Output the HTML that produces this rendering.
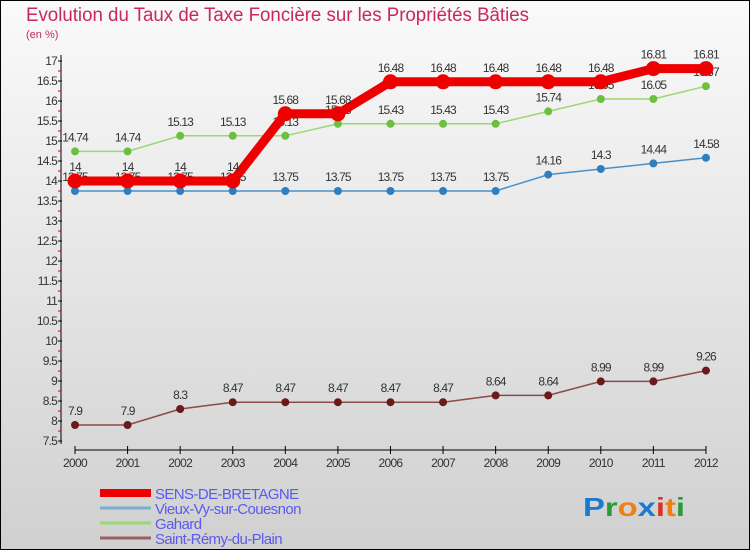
<!DOCTYPE html>
<html><head><meta charset="utf-8">
<style>
html,body{margin:0;padding:0;}
body{width:750px;height:550px;overflow:hidden;font-family:"Liberation Sans",sans-serif;}
</style></head>
<body>
<svg id="chart" width="750" height="550" xmlns="http://www.w3.org/2000/svg" font-family="Liberation Sans, sans-serif">
<defs>
<linearGradient id="bg" x1="0" y1="0" x2="0" y2="1">
<stop offset="0" stop-color="#fafafa"/><stop offset="1" stop-color="#d0d0d0"/>
</linearGradient>
</defs>
<rect x="0.5" y="0.5" width="749" height="549" fill="url(#bg)" stroke="#000" stroke-width="1"/>
<text x="26" y="21" font-size="19" fill="#c8285a" textLength="503" lengthAdjust="spacingAndGlyphs">Evolution du Taux de Taxe Foncière sur les Propriétés Bâties</text>
<text x="26" y="38" font-size="11" fill="#c8285a">(en %)</text>
<g id="axes"></g>
<g id="series"></g>
<g id="legend"></g>
<text x="583" y="516" font-size="26" font-weight="bold" textLength="102" lengthAdjust="spacingAndGlyphs"><tspan fill="#1a7ad0">P</tspan><tspan fill="#2a9a3a">r</tspan><tspan fill="#f08010">o</tspan><tspan fill="#1a7ad0">x</tspan><tspan fill="#e03020">i</tspan><tspan fill="#f08010">t</tspan><tspan fill="#2a9a3a">i</tspan></text>
</svg>
<script>
const years=[2000,2001,2002,2003,2004,2005,2006,2007,2008,2009,2010,2011,2012];
const yTicks=[7.5,8,8.5,9,9.5,10,10.5,11,11.5,12,12.5,13,13.5,14,14.5,15,15.5,16,16.5,17];
const seriesNames=["SENS-DE-BRETAGNE","Vieux-Vy-sur-Couesnon","Gahard","Saint-Rémy-du-Plain"];
const sens=[14,14,14,14,15.68,15.68,16.48,16.48,16.48,16.48,16.48,16.81,16.81];
const vieux=[13.75,13.75,13.75,13.75,13.75,13.75,13.75,13.75,13.75,14.16,14.3,14.44,14.58];
const gahard=[14.74,14.74,15.13,15.13,15.13,15.43,15.43,15.43,15.43,15.74,16.05,16.05,16.37];
const remy=[7.9,7.9,8.3,8.47,8.47,8.47,8.47,8.47,8.64,8.64,8.99,8.99,9.26];
const NS="http://www.w3.org/2000/svg";
const xS=i=>75+i*52.58;
const yS=v=>441-(v-7.5)*40;
function mk(tag,attrs,parent){const e=document.createElementNS(NS,tag);for(const k in attrs)e.setAttribute(k,attrs[k]);parent.appendChild(e);return e;}
const axes=document.getElementById('axes');
let a=mk('line',{x1:61,y1:55,x2:61,y2:444,stroke:'#000'},axes);


a=mk('line',{x1:75,y1:450,x2:706,y2:450,stroke:'#000'},axes);


yTicks.forEach(v=>{
 const y=yS(v);
 mk('line',{x1:58,y1:y,x2:62,y2:y,stroke:'#000'},axes);
 if(v<17) mk('line',{x1:58,y1:y-10,x2:61,y2:y-10,stroke:'#e00000'},axes);
 const t=mk('text',{x:57,y:y+4,'text-anchor':'end','font-size':12,fill:'#333','letter-spacing':'-0.8'},axes);
 t.textContent=String(v);
 
 
});
years.forEach((yr,i)=>{
 const x=xS(i);
 mk('line',{x1:x,y1:446,x2:x,y2:454,stroke:'#000'},axes);
 const t=mk('text',{x:x,y:467,'text-anchor':'middle','font-size':12,fill:'#333','letter-spacing':'-0.7'},axes);
 t.textContent=String(yr);
 
 
});
const sg=document.getElementById('series');
function draw(vals,color,dot,w,r,name){
 const g=mk('g',{},sg);
 
 
 mk('polyline',{points:vals.map((v,i)=>xS(i)+','+yS(v)).join(' '),fill:'none',stroke:color,'stroke-width':w},g);
 vals.forEach((v,i)=>{
  const c=mk('circle',{cx:xS(i),cy:yS(v),r:r,fill:dot},g);
  
  
  const t=mk('text',{x:xS(i),y:yS(v)-10,'text-anchor':'middle','font-size':12,fill:'#333','letter-spacing':'-0.9'},g);
  t.textContent=String(v);
  
  
 });
}
draw(remy,'#8a4a4a','#6a1a1a',1.5,4,'series-saint-remy-du-plain');
draw(vieux,'#4a90c8','#2f7fc0',1.5,4,'series-vieux-vy-sur-couesnon');
draw(gahard,'#9ad870','#6cc040',1.5,4,'series-gahard');
draw(sens,'#ee0000','#ee0000',9,7.5,'series-sens-de-bretagne');
const lg=document.getElementById('legend');
const lcol=['#ee0000','#7aaed0','#9ad870','#9a6060'];
const lw=[8,3,3,3];
seriesNames.forEach((n,i)=>{
 const y=493+i*15;
 const g=mk('g',{},lg);
 
 
 mk('line',{x1:100,y1:y,x2:151,y2:y,stroke:lcol[i],'stroke-width':lw[i]},g);
 const t=mk('text',{x:155,y:y+6,'font-size':15,fill:'#5a5af0','letter-spacing':'-0.6'},g);
 t.textContent=n;
});
</script>
</body></html>
